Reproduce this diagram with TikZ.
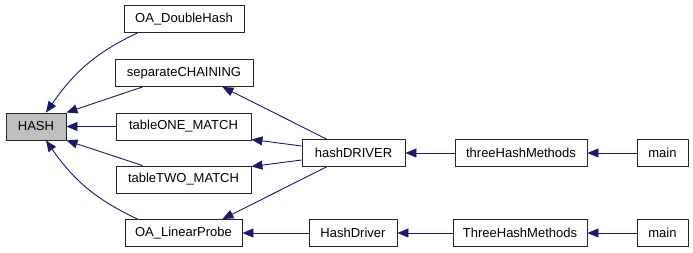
\documentclass[tikz,border=0pt]{standalone}
\usepackage{fontspec}
\setmainfont{Liberation Sans}
\usetikzlibrary{arrows.meta}
\definecolor{edgeblue}{HTML}{191970}

\begin{document}
\begin{tikzpicture}[x=1pt, y=-1pt,
                    every node/.style = {shape=rectangle, draw=black!85, line width=0.9pt,
                                         minimum height=27pt, inner sep=0pt,
                                         font=\fontsize{13}{15}\selectfont},
                    current/.style = {fill=black!25},
                    calls/.style = {draw=edgeblue, line width=0.9pt,
                                    -{Triangle[length=11pt,width=9pt]}}]

  \useasboundingbox (0,0) rectangle (693,253);

  % function and its callers, column by column
  \node[current, minimum width=60pt] (hash) at (36,126.5) {HASH};

  \node[minimum width=120pt] (doublehash) at (184,19)    {OA\_DoubleHash};
  \node[minimum width=138pt] (chaining)   at (184,73)    {separateCHAINING};
  \node[minimum width=135pt] (onematch)   at (183.5,126.5) {tableONE\_MATCH};
  \node[minimum width=135pt] (twomatch)   at (183.5,179.5) {tableTWO\_MATCH};
  \node[minimum width=117pt] (linear)     at (183.5,233) {OA\_LinearProbe};

  \node[minimum width=103pt] (driver)     at (353.5,153) {hashDRIVER};
  \node[minimum width=88pt]  (driverB)    at (353,233)   {HashDriver};

  \node[minimum width=132pt] (methods)    at (521,153)   {threeHashMethods};
  \node[minimum width=134pt] (methodsB)   at (520,233)   {ThreeHashMethods};

  \node[minimum width=51pt]  (main)       at (662.5,153) {main};
  \node[minimum width=51pt]  (mainB)      at (662.5,233) {main};

  % call edges, caller -> callee
  \draw[calls] ([xshift=14pt]doublehash.south west) to[out=205, in=55] ([xshift=10pt]hash.north);
  \draw[calls] ([xshift=28pt]chaining.south west) -- (hash.north east);
  \draw[calls] (onematch) -- (hash);
  \draw[calls] ([xshift=27pt]twomatch.north west) -- (hash.south east);
  \draw[calls] ([xshift=13pt]linear.north west) to[out=155, in=-55] ([xshift=10pt]hash.south);

  \draw[calls] ([xshift=25pt]driver.north west) -- ([xshift=-31pt]chaining.south east);
  \draw[calls] ([yshift=7pt]driver.west) -- ([yshift=-13pt]onematch.east);
  \draw[calls] ([yshift=-7pt]driver.west) -- ([yshift=13pt]twomatch.east);
  \draw[calls] ([xshift=25pt]driver.south west) -- ([xshift=-20pt]linear.north east);
  \draw[calls] (driverB) -- (linear);

  \draw[calls] (methods) -- (driver);
  \draw[calls] (methodsB) -- (driverB);
  \draw[calls] (main) -- (methods);
  \draw[calls] (mainB) -- (methodsB);
\end{tikzpicture}
\end{document}
